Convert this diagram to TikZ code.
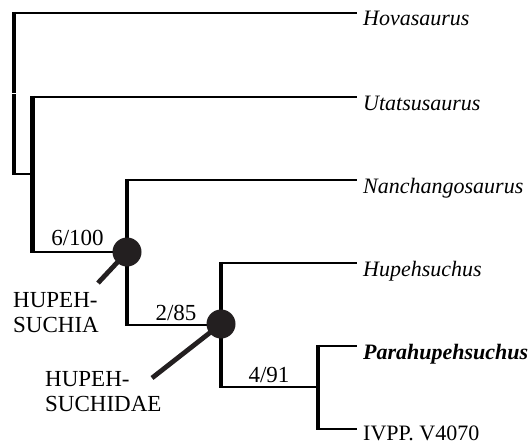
\documentclass[tikz,border=0pt]{standalone}
\usepackage{fontspec}
\setmainfont{Liberation Serif}
\definecolor{dark}{HTML}{231F20}
\begin{document}
\begin{tikzpicture}[x=1pt,y=-1pt,
  thinbranch/.style={line width=2.2pt},
  thickbranch/.style={line width=4.8pt,shorten <=-1.1pt,shorten >=-1.1pt},
  taxon/.style={anchor=base west,inner sep=0pt,font=\fontsize{22}{26}\selectfont},
  support/.style={anchor=base,inner sep=0pt,font=\fontsize{23}{27}\selectfont},
  clade/.style={anchor=base west,inner sep=0pt,align=left,font=\fontsize{23}{25}\selectfont},
  knot/.style={circle,fill=dark,minimum size=29pt,inner sep=0pt},
  stick/.style={line width=4.8pt,draw=dark},
  tipline/.style={line width=2.2pt,shorten >=6pt}]
\useasboundingbox (0,0) rectangle (532,444);

% taxa
\node[taxon] (hov) at (363,26) {\itshape Hovasaurus};
\node[taxon] (uta) at (363,110) {\itshape Utatsusaurus};
\node[taxon] (nan) at (363,193) {\itshape Nanchangosaurus};
\node[taxon] (hup) at (363,276) {\itshape Hupehsuchus};
\node[taxon] (par) at (363,359) {\bfseries\itshape Parahupehsuchus};
\node[taxon] (ivp) at (363,440.5) {IVPP. V4070};

% internal coordinates
\coordinate (r0) at (14,13);
\coordinate (r1) at (14,174);
\coordinate (a0) at (32.5,97);
\coordinate (a1) at (32.5,252);
\coordinate (a2) at (32.5,174);
\coordinate (b0) at (127,180);
\coordinate (b1) at (127,325);
\coordinate (d0) at (221,263);
\coordinate (d1) at (221,387);
\coordinate (e0) at (318,346);
\coordinate (e1) at (318,429);
\coordinate (em) at (318,387);

% vertical branches
\draw[thickbranch] (r0) -- (r1);
\draw[thickbranch] (a0) -- (a1);
\draw[thickbranch] (b0) -- (b1);
\draw[thickbranch] (d0) -- (d1);
\draw[thickbranch] (e0) -- (e1);
\draw[white,line width=1pt] (11,93) -- (17,93);

% horizontal branches
\draw[tipline] (r0) -- (r0 -| hov.west);
\draw[tipline] (a0) -- (a0 -| uta.west);
\draw[tipline] (b0) -- (b0 -| nan.west);
\draw[tipline] (d0) -- (d0 -| hup.west);
\draw[tipline] (e0) -- (e0 -| par.west);
\draw[tipline] (e1) -- (e1 -| ivp.west);
\draw[thinbranch] (r1) -- (a2);
\draw[thinbranch] (a1) -- (127,252);
\draw[thinbranch] (b1) -- (221,325);
\draw[thinbranch] (d1) -- (em);

% clade knots
\node[knot] (c1) at (127,252) {};
\node[knot] (c2) at (221,324) {};
\coordinate (s1) at (98,283);
\coordinate (s2) at (152,378);
\draw[stick] (c1.center) -- (s1);
\draw[stick] (c2.center) -- (s2);

% support values
\node[support] (v1) at (77.5,245) {6/100};
\node[support] (v2) at (176,320) {2/85};
\node[support] (v3) at (269,382) {4/91};

% clade names
\node[clade] (n1) at (13,332) {HUPEH-\\SUCHIA};
\node[clade] (n2) at (45,411) {HUPEH-\\SUCHIDAE};
\end{tikzpicture}
\end{document}
